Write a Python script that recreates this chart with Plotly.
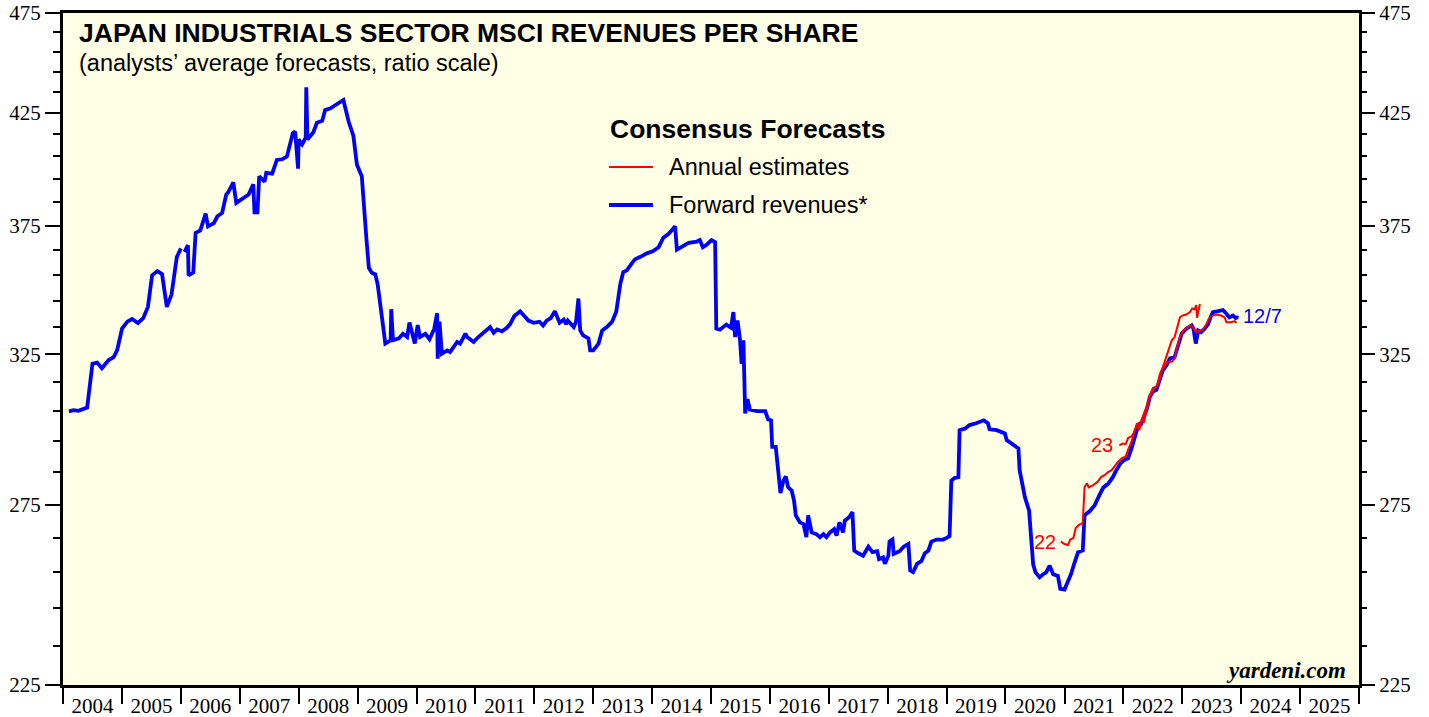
import math

import plotly.graph_objects as go
import pandas as pd


# ── Colours ──────────────────────────────────────────────────────────────────
BG_PLOT = "#FFFFE5"
BLUE    = "#0000FF"
RED     = "#FF0000"
SERIF   = "Liberation Serif, Times New Roman, serif"
SANS    = "Liberation Sans, Arial, sans-serif"


# ── Data (decimal years, revenues per share) ─────────────────────────────────
fwd_years = [
    2004.10, 2004.18, 2004.26, 2004.41, 2004.50, 2004.58, 2004.66, 2004.78, 2004.86, 2004.92,
    2005.00, 2005.09, 2005.17, 2005.27, 2005.36, 2005.44, 2005.51, 2005.60, 2005.68, 2005.76,
    2005.84, 2005.93, 2006.00, 2006.03, 2006.06, 2006.12, 2006.13, 2006.21, 2006.25, 2006.33,
    2006.42, 2006.46, 2006.56, 2006.62, 2006.70, 2006.77, 2006.80, 2006.89, 2006.94, 2007.04,
    2007.15, 2007.23, 2007.25, 2007.30, 2007.33, 2007.42, 2007.45, 2007.55, 2007.63, 2007.72,
    2007.80, 2007.90, 2007.94, 2007.99, 2008.00, 2008.06, 2008.12, 2008.13, 2008.15, 2008.25,
    2008.31, 2008.40, 2008.45, 2008.54, 2008.59, 2008.68, 2008.76, 2008.85, 2008.93, 2008.99,
    2009.07, 2009.15, 2009.19, 2009.24, 2009.30, 2009.34, 2009.41, 2009.47, 2009.56, 2009.57,
    2009.60, 2009.70, 2009.77, 2009.84, 2009.88, 2009.92, 2009.97, 2010.02, 2010.06, 2010.15,
    2010.22, 2010.30, 2010.35, 2010.36, 2010.39, 2010.43, 2010.52, 2010.57, 2010.69, 2010.74,
    2010.83, 2010.86, 2010.97, 2011.05, 2011.17, 2011.25, 2011.31, 2011.37, 2011.45, 2011.53,
    2011.59, 2011.66, 2011.76, 2011.82, 2011.90, 2011.99, 2012.09, 2012.15, 2012.21, 2012.28,
    2012.35, 2012.43, 2012.50, 2012.54, 2012.57, 2012.67, 2012.71, 2012.75, 2012.78, 2012.83,
    2012.92, 2012.95, 2013.00, 2013.09, 2013.15, 2013.23, 2013.32, 2013.39, 2013.46, 2013.51,
    2013.57, 2013.66, 2013.71, 2013.80, 2013.91, 2014.01, 2014.11, 2014.19, 2014.28, 2014.33,
    2014.39, 2014.42, 2014.50, 2014.62, 2014.76, 2014.81, 2014.86, 2014.92, 2015.01, 2015.07,
    2015.09, 2015.15, 2015.26, 2015.34, 2015.38, 2015.41, 2015.45, 2015.49, 2015.52, 2015.55,
    2015.58, 2015.62, 2015.66, 2015.78, 2015.92, 2015.97, 2016.02, 2016.04, 2016.10, 2016.14,
    2016.18, 2016.23, 2016.27, 2016.31, 2016.37, 2016.41, 2016.44, 2016.51, 2016.57, 2016.62,
    2016.65, 2016.71, 2016.79, 2016.85, 2016.91, 2016.96, 2017.02, 2017.09, 2017.13, 2017.18,
    2017.24, 2017.27, 2017.35, 2017.40, 2017.43, 2017.50, 2017.58, 2017.67, 2017.74, 2017.82,
    2017.85, 2017.92, 2017.95, 2018.01, 2018.03, 2018.08, 2018.10, 2018.20, 2018.27, 2018.35,
    2018.38, 2018.43, 2018.50, 2018.57, 2018.63, 2018.69, 2018.74, 2018.83, 2018.94, 2019.00,
    2019.05, 2019.08, 2019.14, 2019.20, 2019.22, 2019.31, 2019.39, 2019.50, 2019.63, 2019.70,
    2019.73, 2019.85, 2019.99, 2020.02, 2020.10, 2020.22, 2020.24, 2020.33, 2020.40, 2020.44,
    2020.47, 2020.51, 2020.58, 2020.64, 2020.69, 2020.75, 2020.81, 2020.89, 2020.93, 2021.00,
    2021.05, 2021.11, 2021.17, 2021.23, 2021.31, 2021.34, 2021.43, 2021.51, 2021.59, 2021.66,
    2021.74, 2021.82, 2021.88, 2021.95, 2022.02, 2022.08, 2022.14, 2022.19, 2022.25, 2022.30,
    2022.35, 2022.40, 2022.45, 2022.50, 2022.56, 2022.60, 2022.67, 2022.73, 2022.79, 2022.87,
    2022.93, 2022.99, 2023.07, 2023.16, 2023.19, 2023.23, 2023.27, 2023.32, 2023.38, 2023.44,
    2023.48, 2023.52, 2023.61, 2023.69, 2023.75, 2023.80, 2023.86, 2023.92, 2023.93,
]
fwd_values = [
    305.0, 305.4, 305.2, 306.3, 321.6, 322.0, 320.0, 323.0, 324.0, 326.5,
    334.4, 337.0, 338.0, 336.5, 338.3, 342.6, 354.8, 356.5, 355.3, 342.6,
    347.3, 362.1, 365.6, None, 364.2, 366.9, 354.8, 356.0, 372.0, 373.0,
    380.0, 374.7, 376.0, 378.9, 380.3, 388.2, 389.0, 393.5, 384.6, 386.5,
    388.2, 392.6, 380.6, 380.6, 396.1, 393.8, 397.6, 397.3, 403.4, 403.7,
    404.9, 415.5, 416.3, 399.5, 412.7, 410.4, 413.5, 437.3, 412.7, 416.0,
    420.4, 421.3, 426.4, 427.2, 428.0, 429.9, 431.2, 420.9, 414.3, 401.2,
    396.2, 369.2, 357.8, 355.8, 355.2, 351.2, 338.2, 328.9, 330.1, 341.7,
    330.1, 330.8, 332.5, 331.3, 336.7, 333.7, 328.9, 335.7, 331.3, 332.5,
    330.5, 334.3, 340.2, 323.4, 337.0, 325.2, 326.4, 325.8, 329.5, 328.9,
    332.5, 331.3, 329.5, 331.3, 333.4, 335.0, 332.9, 334.1, 333.4, 334.6,
    336.1, 339.1, 340.9, 339.3, 337.4, 336.6, 337.0, 335.6, 337.4, 338.3,
    340.9, 336.6, 337.8, 336.1, 337.4, 335.0, 337.0, 345.8, 333.7, 331.9,
    330.8, 326.4, 326.4, 328.9, 333.7, 335.0, 337.0, 340.7, 351.6, 356.1,
    356.8, 359.8, 361.2, 362.2, 363.6, 364.4, 366.1, 370.0, 371.6, 373.0,
    374.7, 365.1, 366.1, 367.9, 368.4, 369.0, 366.1, 367.0, 369.0, 368.2,
    334.4, 334.0, 335.9, 334.7, 340.6, 331.3, 337.4, 330.8, 321.6, 330.1,
    304.3, 309.2, 305.6, 305.1, 305.1, 302.3, 302.0, 293.2, 293.2, 285.1,
    278.5, 282.4, 283.7, 280.3, 279.3, 276.2, 271.7, 269.6, 269.1, 265.2,
    271.7, 266.6, 266.1, 265.2, 266.1, 265.2, 266.6, 267.6, 265.7, 269.6,
    266.6, 270.1, 271.3, 272.7, 261.3, 260.5, 259.8, 262.4, 260.8, 261.1,
    258.8, 259.3, 257.5, 259.8, 263.9, 264.5, 260.3, 261.1, 262.4, 263.2,
    255.6, 255.1, 257.5, 258.2, 260.5, 261.3, 263.9, 264.5, 264.5, 265.0,
    265.5, 282.4, 283.3, 283.5, 298.7, 299.2, 300.4, 301.0, 302.0, 301.0,
    299.0, 298.7, 297.6, 295.4, 294.3, 292.7, 285.7, 277.2, 273.2, 263.6,
    257.3, 255.0, 253.6, 254.5, 255.0, 256.9, 254.5, 254.0, 250.4, 250.2,
    251.9, 254.5, 257.8, 260.8, 261.3, 271.7, 273.0, 274.7, 277.8, 280.3,
    281.4, 283.5, 285.7, 287.9, 289.0, 289.5, 292.9, 296.7, 300.1, 300.6,
    302.9, 305.9, 310.0, 311.8, 312.4, 314.8, 319.2, 321.0, 323.5, 324.0,
    328.9, 332.5, 334.4, 335.6, 334.4, 328.9, 333.7, 333.1, 334.4, 336.1,
    338.6, 340.6, 341.0, 341.4, 340.0, 338.6, 339.3, 338.1, 339.3,
]

est22_years = [
    2020.94, 2021.00, 2021.06, 2021.10, 2021.15, 2021.19, 2021.25, 2021.31, 2021.34, 2021.38,
    2021.41, 2021.48, 2021.56, 2021.62, 2021.68, 2021.74, 2021.80, 2021.86, 2021.91, 2021.97,
    2022.04, 2022.08, 2022.14, 2022.19, 2022.25, 2022.30, 2022.40, 2022.45, 2022.50, 2022.57,
    2022.62, 2022.67, 2022.72, 2022.76, 2022.82, 2022.87, 2022.91, 2022.96, 2023.00, 2023.07,
    2023.13, 2023.17, 2023.21, 2023.24, 2023.25, 2023.30,
]
est22_values = [
    263.9, 263.2, 262.9, 264.6, 264.9, 267.9, 268.9, 269.4, 280.3, 281.6,
    280.3, 280.9, 282.0, 283.5, 284.1, 285.1, 285.7, 287.3, 288.4, 289.5,
    290.1, 292.3, 295.0, 298.7, 301.0, 301.5, 306.9, 310.5, 313.0, 313.6,
    317.9, 320.4, 323.5, 326.7, 330.0, 331.3, 334.4, 338.6, 339.3, 339.7,
    340.6, 342.0, 341.6, 343.3, 338.5, 343.7,
]

est23_years = [
    2021.93, 2021.99, 2022.04, 2022.08, 2022.14, 2022.19, 2022.23, 2022.27, 2022.31, 2022.35,
    2022.40, 2022.45, 2022.49, 2022.53, 2022.59, 2022.64, 2022.70, 2022.76, 2022.82, 2022.87,
    2022.91, 2022.96, 2023.02, 2023.09, 2023.14, 2023.19, 2023.24, 2023.30, 2023.35, 2023.40,
    2023.45, 2023.51, 2023.58, 2023.66, 2023.72, 2023.75, 2023.83, 2023.89, 2023.92,
]
est23_values = [
    293.7, 294.3, 294.1, 296.1, 296.7, 298.2, 301.0, 298.7, 302.0, 301.5,
    305.9, 310.0, 311.8, 313.0, 314.2, 318.6, 321.0, 322.3, 322.3, 323.5,
    327.2, 331.3, 333.7, 334.7, 335.6, 334.7, 333.1, 333.7, 334.0, 335.6,
    338.1, 339.3, 339.7, 339.3, 338.6, 336.8, 336.8, 337.2, 336.5,
]

y_major = [225, 275, 325, 375, 425, 475]
y_minor = [v for v in range(235, 475, 10) if v not in y_major]


def to_dates(years):
    out = []
    for y in years:
        base = pd.Timestamp(year=int(y), month=1, day=1)
        out.append(base + pd.Timedelta(days=(y - int(y)) * 365.25))
    return out


fwd_dates = to_dates(fwd_years)
e22_dates = to_dates(est22_years)
e23_dates = to_dates(est23_years)

fig = go.Figure()

fig.add_trace(go.Scatter(
    x=fwd_dates, y=fwd_values, mode="lines",
    line=dict(color=BLUE, width=3.8), connectgaps=False,
))
# annual estimates sit on the right-hand axis (same fixed range): that axis gets drawn
# and the thin red lines stay on top of the blue one
fig.add_trace(go.Scatter(
    x=e22_dates, y=est22_values, mode="lines", yaxis="y2",
    line=dict(color=RED, width=2), hoverinfo="skip",
))
fig.add_trace(go.Scatter(
    x=e23_dates, y=est23_values, mode="lines", yaxis="y2",
    line=dict(color=RED, width=2), hoverinfo="skip",
))

# series labels (log axis -> annotation y in log10 units)
fig.add_annotation(x=e22_dates[0], y=math.log10(est22_values[0]), yref="y2", text="22",
                   showarrow=False, xanchor="right", xshift=-3,
                   font=dict(family=SANS, size=20, color=RED))
fig.add_annotation(x=e23_dates[0], y=math.log10(est23_values[0]), yref="y2", text="23",
                   showarrow=False, xanchor="right", xshift=-4,
                   font=dict(family=SANS, size=20, color=RED))
fig.add_annotation(x=fwd_dates[-1], y=math.log10(fwd_values[-1]), text="12/7",
                   showarrow=False, xanchor="left", xshift=4,
                   font=dict(family=SANS, size=20, color=BLUE))

# titles
fig.add_annotation(xref="paper", yref="paper", x=0.0105, y=0.9702,
                   xanchor="left", yanchor="middle", showarrow=False,
                   text="<b>JAPAN INDUSTRIALS SECTOR MSCI REVENUES PER SHARE</b>",
                   font=dict(family=SANS, size=26.5, color="black"))
fig.add_annotation(xref="paper", yref="paper", x=0.0105, y=0.9256,
                   xanchor="left", yanchor="middle", showarrow=False,
                   text="(analysts\u2019 average forecasts, ratio scale)",
                   font=dict(family=SANS, size=23.5, color="black"))
fig.add_annotation(xref="paper", yref="paper", x=0.9915, y=0.0223,
                   xanchor="right", yanchor="middle", showarrow=False,
                   text="<b><i>yardeni.com</i></b>",
                   font=dict(family=SERIF, size=23, color="black"))

# legend, drawn by hand to match the original's long sample lines
fig.add_annotation(xref="paper", yref="paper", x=0.4205, y=0.8274,
                   xanchor="left", yanchor="middle", showarrow=False,
                   text="<b>Consensus Forecasts</b>",
                   font=dict(family=SANS, size=26.5, color="black"))
for label, color, width, ypos in [("Annual estimates", RED, 2, 0.7708),
                                  ("Forward revenues*", BLUE, 4, 0.7143)]:
    fig.add_shape(type="line", xref="paper", yref="paper",
                  x0=0.4213, x1=0.4552, y0=ypos, y1=ypos,
                  line=dict(color=color, width=width))
    fig.add_annotation(xref="paper", yref="paper", x=0.4660, y=ypos,
                       xanchor="left", yanchor="middle", showarrow=False, text=label,
                       font=dict(family=SANS, size=23.5, color="black"))

yaxis_common = dict(
    type="log",
    range=[math.log10(225), math.log10(475)],
    tickmode="array", tickvals=y_major, ticktext=[str(v) for v in y_major],
    ticks="outside", ticklen=15, tickwidth=1.5, tickcolor="black",
    minor=dict(tickmode="array", tickvals=y_minor, ticks="outside", ticklen=7,
               tickwidth=1.5, tickcolor="black"),
    tickfont=dict(family=SERIF, size=21, color="black"),
    ticklabeloverflow="allow",
    showgrid=False, zeroline=False, automargin=False,
)

fig.update_layout(
    width=1429, height=717,
    margin=dict(l=63, r=70, t=13, b=32, autoexpand=False),
    paper_bgcolor="white", plot_bgcolor=BG_PLOT,
    showlegend=False,
    xaxis=dict(
        type="date", range=["2004-01-01", "2026-01-01"],
        dtick="M12", tick0="2004-01-01", tickformat="%Y", ticklabelmode="period",
        ticks="outside", ticklen=16, tickwidth=2, tickcolor="black",
        ticklabelstandoff=-16,
        tickfont=dict(family=SERIF, size=21, color="black"),
        showline=True, linewidth=3, linecolor="black", mirror=True,
        showgrid=False, zeroline=False, automargin=False,
    ),
    yaxis=dict(**yaxis_common, showline=True, linewidth=3, linecolor="black", mirror=True),
    yaxis2=dict(**yaxis_common, overlaying="y", side="right", anchor="x"),
)

# drop the browser's default body margin so the figure sits flush in the window
fig.write_html("out.html", config={"displayModeBar": False},
               post_script="document.body.style.margin = '0';")
